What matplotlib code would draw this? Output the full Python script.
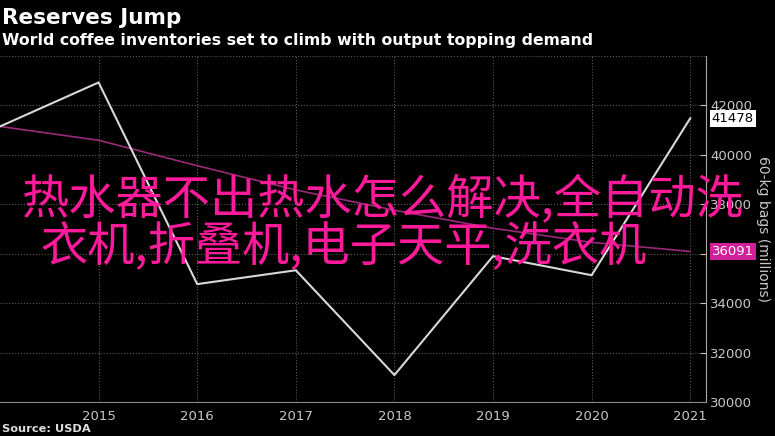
import matplotlib.pyplot as plt
from matplotlib.ticker import MultipleLocator

years = [2014, 2015, 2016, 2017, 2018, 2019, 2020, 2021]
stocks = [41150, 42930, 34770, 35330, 31090, 35900, 35130, 41478]
trend = [41150, 40590, 39560, 38580, 37760, 37030, 36460, 36091]
year_ticks = [2015, 2016, 2017, 2018, 2019, 2020, 2021]

overlay_1 = "热水器不出热水怎么解决,全自动洗"
overlay_2 = "衣机,折叠机,电子天平,洗衣机"

fig = plt.figure(figsize=(7.75, 4.36), dpi=100, facecolor="black")
ax = fig.add_axes([0.0, 1 - 402 / 436, 706 / 775, 346 / 436], facecolor="black")

ax.plot(years, trend, color="#9a2a78", lw=1.2)
ax.plot(years, stocks, color="#d8d8d8", lw=1.5)

ax.set_xlim(2014, 2021.16)
ax.set_ylim(30000, 44000)
ax.set_xticks(year_ticks)
ax.yaxis.tick_right()
ax.yaxis.set_label_position("right")
ax.set_yticks(range(30000, 43000, 2000))
ax.yaxis.set_minor_locator(MultipleLocator(1000))
ax.tick_params(colors="#c8c8c8", labelsize=9.5)
ax.tick_params(axis="y", which="both", direction="in", length=4, pad=3)
ax.tick_params(axis="x", length=0, pad=6)
ax.grid(True, color="#5a5a5a", ls=":", lw=0.8)
ax.axhline(44000, color="#5a5a5a", ls=":", lw=0.8)
for s in ["top", "left"]:
    ax.spines[s].set_visible(False)
ax.spines["right"].set_color("#aaaaaa")
ax.spines["bottom"].set_color("#888888")
ax.set_ylabel("60-kg bags (millions)", color="#c8c8c8", fontsize=10,
              rotation=270, labelpad=13)

# value tags
ax.annotate(f"{stocks[-1]}", xy=(1.0, stocks[-1]), xycoords=("axes fraction", "data"),
            xytext=(4, 0), textcoords="offset points", va="center", ha="left",
            fontsize=9.5, color="black", zorder=5,
            bbox=dict(boxstyle="square,pad=0.15", fc="white", ec="none"))
ax.annotate(f"{trend[-1]}", xy=(1.0, trend[-1]), xycoords=("axes fraction", "data"),
            xytext=(4, 0), textcoords="offset points", va="center", ha="left",
            fontsize=9.5, color="white", zorder=5,
            bbox=dict(boxstyle="square,pad=0.15", fc="#d0209a", ec="none"))

fig.text(0.003, 0.958, "Reserves Jump", color="white", fontsize=15.5,
         fontweight="bold", va="center")
fig.text(0.003, 0.906, "World coffee inventories set to climb with output topping demand",
         color="white", fontsize=11.3, fontweight="bold", va="center")
fig.text(0.003, 0.017, "Source: USDA", color="#dddddd", fontsize=8.2,
         fontweight="bold", va="center")

cjk = ["Noto Sans CJK SC", "DejaVu Sans"]
fig.text(22 / 775, 1 - 213 / 436, overlay_1, color="#ff1a9c", fontsize=34,
         family=cjk, va="baseline")
fig.text(40 / 775, 1 - 261 / 436, overlay_2, color="#ff1a9c", fontsize=34,
         family=cjk, va="baseline")

fig.savefig("out.png", dpi=100, facecolor="black")
